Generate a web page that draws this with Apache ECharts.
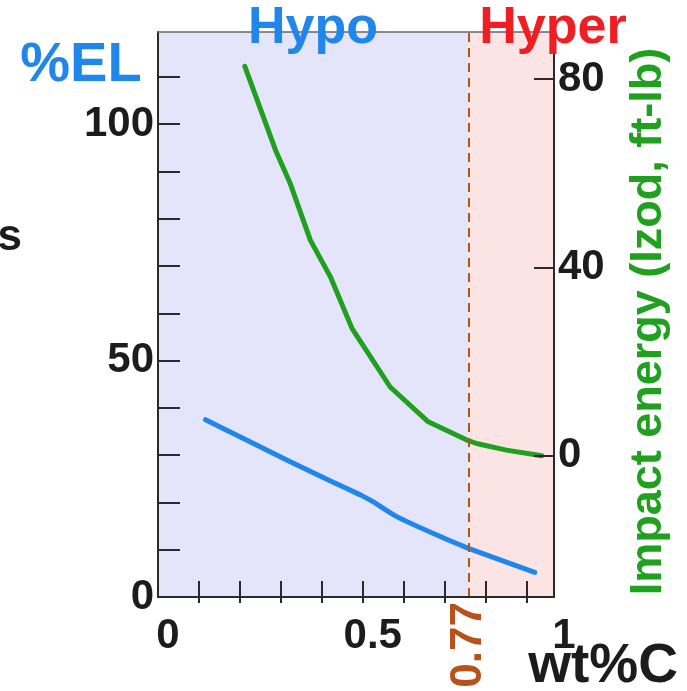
<!DOCTYPE html>
<html>
<head>
<meta charset="utf-8">
<script src="https://cdn.jsdelivr.net/npm/echarts@6/dist/echarts.min.js"></script>
<style>
html, body { margin: 0; padding: 0; background: #fff; }
#chart { width: 687px; height: 691px; }
</style>
</head>
<body>
<div id="chart"></div>
<script>
// carbon content (wt%C) vs elongation and impact energy
const elongX = [0.116, 0.2, 0.323, 0.42, 0.494, 0.526, 0.583, 0.681, 0.758, 0.92]
const elongY = [37.5, 33.9, 28.6, 24.6, 21.6, 20.1, 17.0, 13.1, 10.3, 5.2]
const impactX = [0.212, 0.287, 0.323, 0.372, 0.421, 0.474, 0.567, 0.66, 0.758, 0.778, 0.851, 0.937]
const impactY = [82.7, 64.9, 57.8, 45.8, 38.0, 27.0, 14.6, 7.2, 3.2, 2.6, 1.2, 0.0]

const xMax = 0.967
const xTicks = [0.1, 0.2, 0.3, 0.4, 0.5, 0.6, 0.7, 0.8, 0.9]
const xLabels = [0, 0.5, xMax]        // last one is printed as "1"
const leftTicks = [0, 10, 20, 30, 40, 50, 60, 70, 80, 90, 100, 110]
const leftLabels = [0, 50, 100]
const rightTicks = [0, 40, 80]
const eutectoid = 0.758               // where the 0.77 line sits in the drawing
const eutectoidText = '0.77'

const BLUE = '#1f86ec'
const GREEN = '#1fa01f'
const RED = '#f01e23'
const BROWN = '#b7521d'
const INK = '#1c1c1c'
const FONT = '"Liberation Sans", Arial, sans-serif'

const chart = echarts.init(document.getElementById('chart'))

const bigLabel = { fontSize: 42, fontWeight: 'bold', color: INK, fontFamily: FONT }
const axisDark = { color: '#2a2a2a', width: 2 }

chart.setOption({
    animation: false,
    textStyle: { fontFamily: FONT },
    grid: { left: 158, right: 133, top: 32, bottom: 94 },
    xAxis: [{
        type: 'value', min: 0, max: xMax, position: 'bottom', z: 10,
        axisLine: { onZero: false, lineStyle: axisDark },
        axisTick: { customValues: xTicks, inside: true, length: 16, lineStyle: axisDark },
        axisLabel: Object.assign({
            customValues: xLabels, margin: 18, padding: [0, 0, 0, 20],
            formatter: v => v === xMax ? '1' : String(v)
        }, bigLabel),
        splitLine: { show: false }
    }, {
        type: 'value', min: 0, max: xMax, position: 'bottom', z: 10,
        axisLine: { show: false, onZero: false },
        axisTick: { customValues: xTicks, inside: false, length: 6, lineStyle: axisDark },
        axisLabel: {
            customValues: [eutectoid], formatter: () => eutectoidText, rotate: 90, margin: 5,
            padding: [10, 0, 0, 0],
            fontSize: 44, fontWeight: 'bold', color: BROWN, fontFamily: FONT
        },
        splitLine: { show: false }
    }, {
        type: 'value', min: 0, max: xMax, position: 'top', z: 10,
        axisLine: { onZero: false, lineStyle: { color: '#666', width: 1.5 } },
        axisTick: { show: false }, axisLabel: { show: false }, splitLine: { show: false }
    }],
    yAxis: [{
        type: 'value', min: 0, max: 119.5, position: 'left', z: 10,
        axisLine: { onZero: false, lineStyle: axisDark },
        axisTick: { customValues: leftTicks, inside: true, length: 22, lineStyle: axisDark },
        axisLabel: Object.assign({ customValues: leftLabels, margin: 4, padding: [10, 0, 0, 0] }, bigLabel),
        splitLine: { show: false }
    }, {
        type: 'value', min: -30, max: 90, position: 'right', z: 10,
        axisLine: { onZero: false, lineStyle: axisDark },
        axisTick: { customValues: rightTicks, inside: true, length: 20, lineStyle: axisDark },
        axisLabel: Object.assign({ customValues: rightTicks, margin: 4, padding: [10, 0, 0, 0] }, bigLabel),
        splitLine: { show: false },
        name: 'Impact energy (Izod, ft-lb)',
        nameLocation: 'middle', nameRotate: 90, nameGap: 72,
        nameTextStyle: { color: GREEN, fontSize: 45, fontWeight: 'bold', fontFamily: FONT, padding: [0, 14, 0, 0] }
    }],
    series: [{
        name: '%EL',
        type: 'line',
        data: elongX.map((x, i) => [x, elongY[i]]),
        smooth: 0.15,
        showSymbol: false,
        lineStyle: { color: BLUE, width: 5, cap: 'round' },
        markArea: {
            silent: true,
            data: [
                [{ xAxis: 0, itemStyle: { color: '#e4e4fb' } }, { xAxis: eutectoid }],
                [{ xAxis: eutectoid, itemStyle: { color: '#fde4e4' } }, { xAxis: xMax }]
            ]
        }
    }, {
        name: 'Impact energy',
        type: 'line',
        yAxisIndex: 1,
        data: impactX.map((x, i) => [x, impactY[i]]),
        smooth: false,
        showSymbol: false,
        lineStyle: { color: GREEN, width: 5, cap: 'round', join: 'round' },
        markLine: {
            silent: true,
            symbol: 'none',
            label: { show: false },
            lineStyle: { color: BROWN, width: 2, type: [9, 6] },
            data: [{ xAxis: eutectoid }]
        }
    }],
    graphic: [
        { type: 'text', x: 313, y: 29, z: 20, style: { text: 'Hypo', fill: BLUE, font: 'bold 52px ' + FONT, align: 'center', verticalAlign: 'middle' } },
        { type: 'text', x: 553, y: 29, z: 20, style: { text: 'Hyper', fill: RED, font: 'bold 52px ' + FONT, align: 'center', verticalAlign: 'middle' } },
        { type: 'text', x: 81, y: 66, z: 20, style: { text: '%EL', fill: BLUE, font: 'bold 56px ' + FONT, align: 'center', verticalAlign: 'middle' } },
        { type: 'text', x: 22, y: 238, z: 20, style: { text: 's', fill: INK, font: 'bold 44px ' + FONT, align: 'right', verticalAlign: 'middle' } },
        { type: 'text', x: 603, y: 667, z: 20, style: { text: 'wt%C', fill: INK, font: 'bold 55px ' + FONT, align: 'center', verticalAlign: 'middle' } }
    ]
})
</script>
</body>
</html>
